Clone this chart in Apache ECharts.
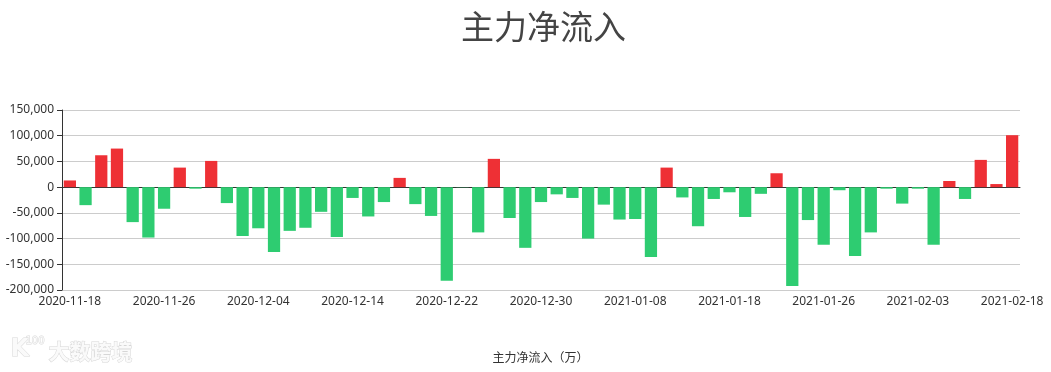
<!DOCTYPE html>
<html>
<head>
<meta charset="utf-8">
<script src="https://cdn.jsdelivr.net/npm/echarts@6/dist/echarts.min.js"></script>
<style>html,body{margin:0;padding:0;background:#fff;}#c{width:1051px;height:372px;}</style>
</head>
<body>
<div id="c"></div>
<script>
var dates = [
 '2020-11-18','2020-11-19','2020-11-20','2020-11-23','2020-11-24','2020-11-25','2020-11-26','2020-11-27','2020-11-30',
 '2020-12-01','2020-12-02','2020-12-03','2020-12-04','2020-12-07','2020-12-08','2020-12-09','2020-12-10','2020-12-11',
 '2020-12-14','2020-12-15','2020-12-16','2020-12-17','2020-12-18','2020-12-21','2020-12-22','2020-12-23','2020-12-24',
 '2020-12-25','2020-12-28','2020-12-29','2020-12-30','2020-12-31','2021-01-04','2021-01-05','2021-01-06','2021-01-07',
 '2021-01-08','2021-01-11','2021-01-12','2021-01-13','2021-01-14','2021-01-15','2021-01-18','2021-01-19','2021-01-20',
 '2021-01-21','2021-01-22','2021-01-25','2021-01-26','2021-01-27','2021-01-28','2021-01-29','2021-02-01','2021-02-02',
 '2021-02-03','2021-02-04','2021-02-05','2021-02-08','2021-02-09','2021-02-10','2021-02-18'
];
var netInflow = [
 13000,-35000,62000,75000,-68000,-98000,-42000,38000,-3000,
 51000,-31000,-95000,-80000,-126000,-85000,-79000,-48000,-97000,
 -21000,-57000,-29000,18000,-33000,-56000,-182000,-500,-88000,
 55000,-60000,-118000,-29000,-14000,-21000,-100000,-34000,-63000,
 -62000,-136000,38000,-20000,-76000,-23000,-10000,-58000,-13000,
 27000,-192000,-64000,-112000,-6000,-134000,-88000,-3000,-32000,
 -3000,-112000,12000,-23000,53000,6000,101000
];
var yTicks = {min:-200000, max:150000, interval:50000};
var titleText = '主力净流入';
var seriesName = '主力净流入（万）';
var watermarkText = '大数跨境';
var upColor = '#ee3035', downColor = '#2ecc71';

var chart = echarts.init(document.getElementById('c'));
chart.setOption({
  animation:false,
  title:{text:titleText,left:456,top:5,textStyle:{fontFamily:'Noto Sans CJK SC',fontSize:33,fontWeight:'normal',color:'#444'}},
  legend:{bottom:4,left:'center',icon:'none',itemWidth:25,itemGap:10,data:[seriesName],textStyle:{color:'#333',fontSize:12,fontFamily:'Noto Sans CJK SC'},selectedMode:false},
  graphic:[
    {type:'text',left:10,top:337,style:{text:'K',fontSize:24,fontWeight:'bold',fill:'#fafafa',stroke:'#d8d8d8',lineWidth:1,fontFamily:'DejaVu Sans'}},
    {type:'text',left:25,top:336,style:{text:'100',fontSize:10,fill:'#fafafa',stroke:'#d8d8d8',lineWidth:1,fontFamily:'DejaVu Sans'}},
    {type:'text',left:48,top:340,style:{text:watermarkText,fontSize:21,fontWeight:'bold',fill:'#fafafa',stroke:'#d6d6d6',lineWidth:1,fontFamily:'Noto Sans CJK SC'}}
  ],
  grid:{left:62,right:31,top:110,bottom:82},
  xAxis:[
    {type:'category',data:dates,axisLine:{onZero:true,lineStyle:{color:'#333'}},axisTick:{interval:5,lineStyle:{color:'#333'}},axisLabel:{show:false},splitLine:{show:false}},
    {type:'category',data:dates,position:'bottom',axisLine:{show:false,onZero:false},axisTick:{show:false},
     axisLabel:{interval:5,color:'#333',fontSize:12,fontFamily:'Noto Sans',margin:6}}
  ],
  yAxis:{type:'value',min:yTicks.min,max:yTicks.max,interval:yTicks.interval,
    axisLine:{show:true,lineStyle:{color:'#333'}},axisTick:{show:true,lineStyle:{color:'#333'}},
    axisLabel:{color:'#333',fontSize:12,fontFamily:'Noto Sans',formatter:function(v){return v.toLocaleString('en-US');}},
    splitLine:{lineStyle:{color:'#ccc'}}},
  series:[{name:seriesName,type:'bar',xAxisIndex:0,barCategoryGap:'22%',
    data:netInflow.map(function(v){return {value:v,itemStyle:{color:v>=0?upColor:downColor}};})}]
});
</script>
</body>
</html>
